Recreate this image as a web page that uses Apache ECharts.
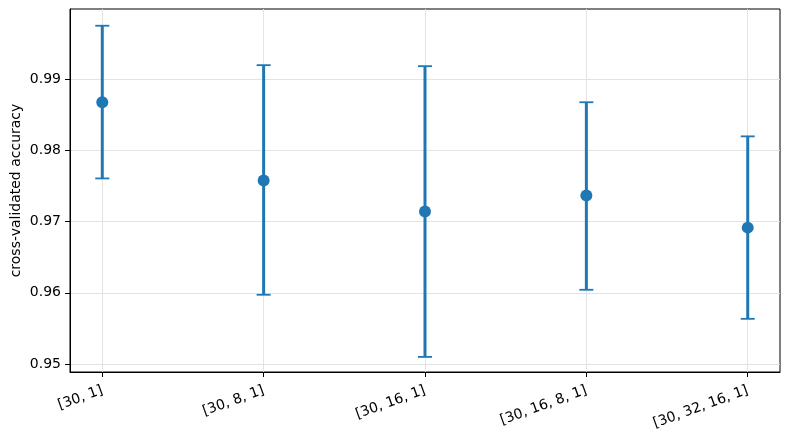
<!DOCTYPE html>
<html>
<head>
<meta charset="utf-8">
<script src="https://cdn.jsdelivr.net/npm/echarts@6/dist/echarts.min.js"></script>
<style>
  html, body { margin: 0; padding: 0; background: #fff; }
  #chart { width: 790px; height: 439px; }
</style>
</head>
<body>
<div id="chart"></div>
<script>
// layer configurations on the x axis
var categories = ['[30, 1]', '[30, 8, 1]', '[30, 16, 1]', '[30, 16, 8, 1]', '[30, 32, 16, 1]'];
// mean cross-validated accuracy and error bar ends
var meanAcc = [0.98676, 0.97577, 0.97141, 0.97366, 0.96915];
var upperAcc = [0.99751, 0.99197, 0.99183, 0.98676, 0.98197];
var lowerAcc = [0.97606, 0.95972, 0.95099, 0.96042, 0.95634];
var yTicks = [0.95, 0.96, 0.97, 0.98, 0.99];
var xTicks = [0, 1, 2, 3, 4];

var blue = '#1f77b4';

var chart = echarts.init(document.getElementById('chart'));

var barData = categories.map(function (c, i) {
    return [i, lowerAcc[i], upperAcc[i]];
});
var pointData = categories.map(function (c, i) {
    return [i, meanAcc[i]];
});

var option = {
    backgroundColor: '#ffffff',
    animation: false,
    grid: {
        left: 70, right: 10, top: 9, bottom: 67,
        outerBoundsMode: 'none',
        containLabel: false,
        show: true, borderColor: '#000', borderWidth: 1
    },
    xAxis: {
        type: 'value',
        min: -0.2,
        max: 4.2,
        axisLine: { show: true, onZero: false, lineStyle: { color: '#000', width: 1 } },
        axisTick: { show: true, customValues: xTicks, length: 5, lineStyle: { color: '#000' } },
        axisLabel: {
            customValues: xTicks,
            rotate: 20,
            margin: 18,
            fontFamily: 'DejaVu Sans',
            fontSize: 14,
            color: '#000',
            formatter: function (v) { return categories[Math.round(v)]; }
        },
        splitLine: { show: true, lineStyle: { color: '#e3e3e3', width: 1 } }
    },
    yAxis: {
        type: 'value',
        min: 0.94887,
        max: 0.99986,
        name: 'cross-validated accuracy',
        nameLocation: 'middle',
        nameGap: 47,
        nameMoveOverlap: false,
        nameTextStyle: { fontFamily: 'DejaVu Sans', fontSize: 14, color: '#000' },
        axisLine: { show: true, onZero: false, lineStyle: { color: '#000', width: 1 } },
        axisTick: { show: true, customValues: yTicks, length: 5, lineStyle: { color: '#000' } },
        axisLabel: {
            customValues: yTicks,
            margin: 9,
            fontFamily: 'DejaVu Sans',
            fontSize: 14,
            color: '#000',
            formatter: function (v) { return v.toFixed(2); }
        },
        splitLine: { show: true, lineStyle: { color: '#e3e3e3', width: 1 } }
    },
    series: [
        {
            // vertical error bars with caps
            type: 'custom',
            data: barData,
            z: 2,
            renderItem: function (params, api) {
                var top = api.coord([api.value(0), api.value(2)]);
                var bot = api.coord([api.value(0), api.value(1)]);
                var cap = 7;
                return {
                    type: 'group',
                    children: [
                        { type: 'line', shape: { x1: top[0], y1: top[1], x2: bot[0], y2: bot[1] },
                          style: { stroke: blue, lineWidth: 3 } },
                        { type: 'line', shape: { x1: top[0] - cap, y1: top[1], x2: top[0] + cap, y2: top[1] },
                          style: { stroke: blue, lineWidth: 1.8 } },
                        { type: 'line', shape: { x1: bot[0] - cap, y1: bot[1], x2: bot[0] + cap, y2: bot[1] },
                          style: { stroke: blue, lineWidth: 1.8 } }
                    ]
                };
            }
        },
        {
            type: 'scatter',
            data: pointData,
            symbol: 'circle',
            symbolSize: 12,
            z: 3,
            itemStyle: { color: blue, opacity: 1 }
        }
    ]
};

chart.setOption(option);
</script>
</body>
</html>
